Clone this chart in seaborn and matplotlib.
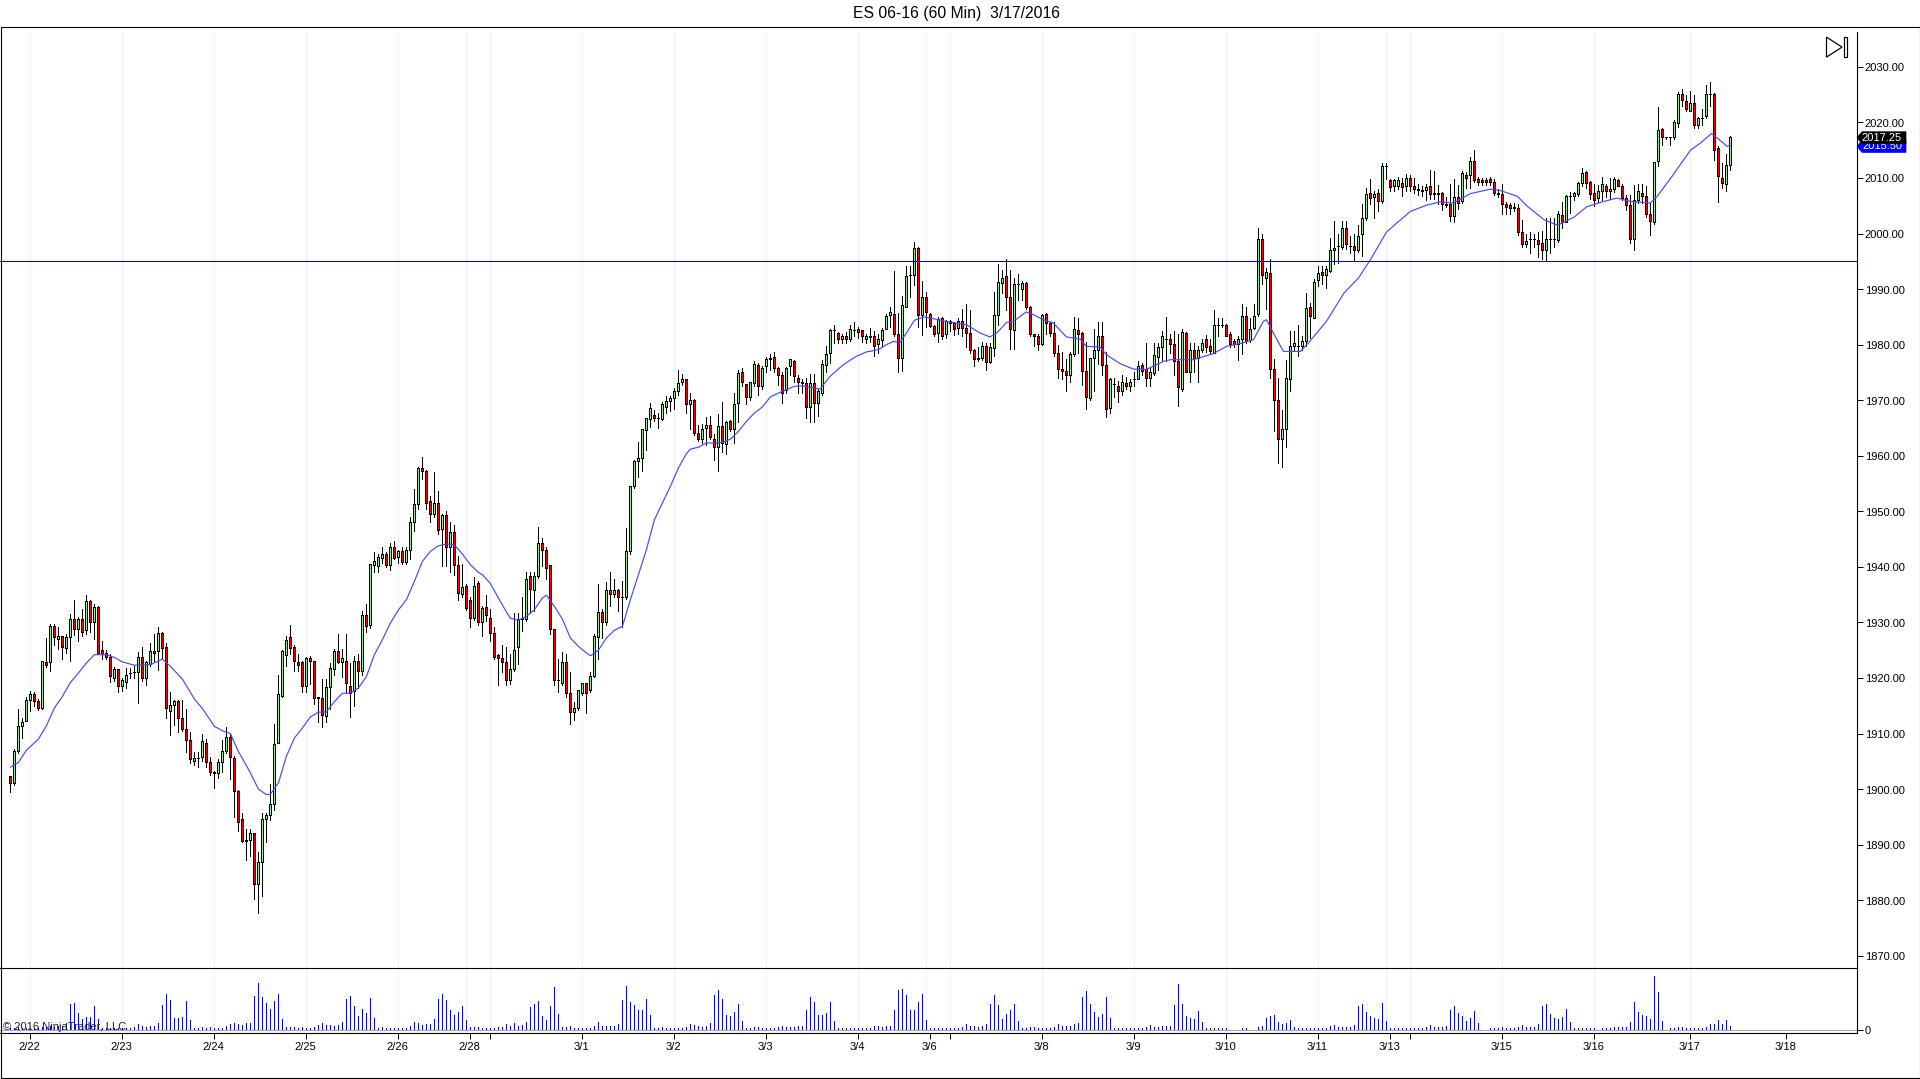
import matplotlib
matplotlib.use("Agg")
import matplotlib.pyplot as plt
from matplotlib.patches import Polygon, Rectangle
from matplotlib.transforms import Affine2D, ScaledTranslation, blended_transform_factory
import numpy as np
import seaborn as sns

# OHLC per 60 min bar
opens = [
    1902.25,1901,1906.75,1911.25,1912.25,1916,1917,1915.75,1914.5,1922.75,
    1922.75,1929.25,1927,1927.5,1925.25,1927.25,1930.5,1928.75,1930.5,1928.5,
    1933.75,1930,1932.75,1925,1924.5,1923.75,1920,1921.5,1918.5,1919.25,
    1920.75,1921,1921,1923.75,1920,1922.5,1924.75,1924.75,1928,1925.5,
    1914,1915,1915.75,1912.75,1910.75,1908.75,1905,1905.5,1905.75,1908.25,
    1904.75,1903,1902.75,1904.75,1906.75,1909.25,1905.5,1899.5,1894.5,1890.75,
    1890.75,1892,1882.75,1886.75,1894.5,1895.25,1897.25,1908.25,1916.75,1924,
    1927.25,1925.5,1922.75,1922.75,1918.5,1923.5,1923,1916.5,1916.25,1913,
    1918.25,1921.5,1924.75,1922.75,1923,1918.5,1917.5,1923,1921.25,1931.25,
    1929.5,1940.25,1940,1941.5,1942.25,1940.25,1943.5,1941.75,1942.75,1940.75,
    1943,1948,1951.25,1957.75,1957.25,1951.75,1949.5,1951.5,1946.75,1949.25,
    1943.5,1946.25,1940.25,1935,1936.5,1934,1930.75,1937,1930,1932.75,
    1930.75,1928,1924,1923.5,1922.75,1919.5,1921.5,1925.5,1930.5,1930.5,
    1938.25,1935.75,1938.25,1944.25,1943,1940.25,1928.75,1919.5,1919,1922.75,
    1917.25,1913.75,1914.5,1917.25,1919,1917.75,1920.25,1927.25,1931.75,1930,
    1935.75,1935,1935.75,1934.5,1934.5,1942.75,1954.5,1959,1959.5,1964.5,
    1966.5,1967.25,1966.75,1966.5,1968.75,1969.75,1970.25,1971.5,1973.25,1973.75,
    1969.25,1970,1964,1963,1965,1965.5,1963,1961.5,1965.25,1962,
    1966.25,1964.75,1969.5,1975,1972.75,1970.5,1973,1976.25,1972.5,1976,
    1977.25,1977.75,1975.75,1974.5,1971.75,1976,1977,1974,1973.25,1973,
    1968.75,1973,1969.5,1971.25,1976.25,1978.5,1982.5,1982,1981,1981.5,
    1981,1982.5,1982.75,1982.5,1981,1981.5,1981.5,1980,1980.75,1982.75,
    1985.25,1985.5,1981.75,1977.5,1986.75,1992.5,1992.5,1997.25,1985.25,1988.5,
    1985.5,1983.25,1982,1984.75,1981.75,1984.25,1983.75,1983,1984.25,1983,
    1982,1979,1977.25,1977.5,1979.75,1976.75,1979.25,1985.25,1991,1992.25,
    1988.5,1982.5,1990.75,1990,1991,1986.75,1981.75,1981.5,1980,1985.5,
    1983.75,1982,1978.5,1975.5,1975.25,1974.5,1978.25,1982.5,1982,1975.25,
    1970.25,1977.5,1979,1981.5,1976.25,1968.5,1972.75,1972.5,1971.5,1973,
    1972.5,1973.75,1973.75,1976.25,1975.5,1974,1974.75,1977.75,1979.5,1981,
    1981,1980,1977,1972,1982,1975,1979,1977.5,1979,1981,
    1979.75,1978.5,1983.5,1983.5,1983.5,1981.75,1980.5,1980,1981,1985,
    1980.75,1983,1985.5,1999,1992,1992.75,1975.5,1970,1963,1964.75,
    1973.75,1979.75,1979.75,1979.75,1980.5,1986.75,1984.75,1991.5,1993,1992.5,
    1993.25,1997,1997.75,1997.5,2001,1997.75,1997.75,1997,1999.75,2002.75,
    2007.25,2006.5,2007.25,2005.75,2012,2009.5,2008.5,2008.5,2009,2008.5,
    2010,2008.5,2008,2007.75,2007.75,2008.5,2007,2007,2007.25,2005.25,
    2005.25,2003,2006.5,2005.75,2010.5,2010.5,2013,2009.75,2009.5,2009.5,
    2009.75,2009.25,2007.25,2007,2005.25,2005,2004.75,2004.5,2000.25,1998,
    1999,1999,1998.75,1998.25,1997,1999,1999,1998.75,2003.25,2002,
    2006.75,2006.75,2007,2009,2011,2009.25,2007.25,2006.25,2007.5,2008.5,
    2007.5,2008,2009.5,2008.5,2006.25,2005,1999,2006,2007.25,2006.75,
    2003.5,2002,2013,2018.75,2017.25,2017.25,2017.25,2019.75,2025,2023.75,
    2022,2023.5,2019.5,2020.75,2021,2025,2025,2015.25,2010,2008.75,2012.25,
]
highs = [
    1902.25,1907.25,1914.5,1912.75,1916.5,1917.75,1917.5,1916.25,1923,1927.25,
    1929.75,1929.75,1929.25,1927.5,1928,1931.5,1934,1931,1932.5,1935,
    1934,1933.25,1933,1926.75,1925,1924.25,1922,1921.5,1920,1921.75,
    1921.75,1922.25,1924.75,1925.5,1923,1926.25,1928,1929.25,1928.25,1926.25,
    1917.5,1916,1916,1916,1914.5,1910.25,1906.75,1906.75,1910,1909,
    1905.75,1903.25,1905.5,1908.75,1911.25,1910,1906,1899.75,1895.75,1892.75,
    1892.75,1892,1888.75,1895.75,1895.75,1901,1911.75,1920.5,1925,1927.5,
    1929.5,1926,1924.25,1923,1923.75,1924,1923,1916.5,1919.75,1919.75,
    1922.75,1925.25,1928,1925.25,1928,1922.75,1924,1924.25,1932,1933.25,
    1940.5,1942.75,1942.25,1943.5,1942.75,1944.25,1944.75,1943,1943.5,1943.5,
    1949,1954,1958,1959.75,1957.5,1952.75,1957,1953.75,1949.5,1950,
    1948,1947.5,1942,1940.5,1937,1934.5,1938.25,1937.5,1933,1935,
    1932.5,1929.25,1924.25,1926,1925.5,1924.25,1931.75,1931.75,1934.5,1939,
    1939,1939,1947.25,1945.25,1943.5,1940.25,1928.75,1923.5,1924.75,1924.25,
    1921,1915.75,1917.75,1919,1919,1921,1928,1937,1932.5,1937.25,
    1939,1937.75,1936,1937.5,1947,1954.5,1959.25,1962.5,1964.75,1966.75,
    1969.5,1968.25,1967.75,1969.75,1970.75,1970.75,1972.25,1975.5,1974.75,1973.75,
    1971.25,1970.25,1965.5,1965.75,1967,1967.25,1964,1967.5,1969.75,1966.25,
    1966.5,1971.25,1975.5,1975.75,1973,1973.25,1977,1976.75,1976.25,1977.75,
    1978.25,1978.75,1976,1975,1976,1977.5,1977.25,1974.5,1973.75,1974,
    1974.75,1974.75,1972,1977.25,1979.75,1982.75,1983.5,1982.25,1982,1982.25,
    1983.5,1984,1983.25,1982.5,1982,1983,1982.5,1982,1983,1985.5,
    1986.75,1993.25,1985.75,1988.75,1994.25,1994.25,1998.5,1997.5,1991.5,1989.5,
    1985.75,1983.5,1985,1985,1984.5,1984.5,1984,1984.75,1986.5,1987.25,
    1986.25,1979.25,1979.5,1980.5,1980.25,1980.25,1989.5,1994.5,1993.5,1995.5,
    1993.5,1992,1992.75,1991.5,1991.25,1987,1982,1982,1985.5,1985.75,
    1984,1984,1980,1978.75,1977.5,1978.75,1985,1984.75,1982.25,1980.5,
    1977.5,1982.75,1984,1984,1978.75,1974,1974,1973.5,1974.5,1974.25,
    1973.75,1975,1977,1976.75,1980.25,1976,1980.25,1980.25,1982.5,1985,
    1982,1982.5,1982,1982.75,1982.25,1980.25,1980.25,1979.75,1981,1981.75,
    1981,1986.25,1984.75,1984.75,1983.75,1982.25,1981,1981.5,1987.25,1986.75,
    1984.75,1987.25,2001,2000,1993.75,1995.5,1977.5,1974,1968.25,1977.25,
    1982.5,1982.5,1983.5,1981.5,1989.25,1987.5,1991.75,1994.25,1994.25,1994.25,
    1999.25,2002.25,2000,2002.25,2002.25,1999.5,2000,2001.5,2005.25,2008.25,
    2009.75,2007.75,2008,2012.75,2012.75,2009.75,2009.75,2010.25,2010,2010.75,
    2010.5,2010,2009,2008.5,2009,2011.5,2011.25,2008.75,2007.5,2006.5,
    2009,2009.75,2008.75,2011.25,2011,2013.75,2015,2010.25,2010,2010,
    2010.25,2009.75,2008,2009,2005.75,2005.5,2005.5,2005.25,2002.5,2000,
    2000.25,2000,2000.25,2000.5,2002.75,2002.75,2002.75,2004,2005.75,2007,
    2007.5,2007.5,2009.25,2011.75,2011.25,2009.5,2009,2008.75,2010.25,2009,
    2010,2010.25,2009.75,2009,2007,2007,2008.75,2009,2009,2008.5,
    2005.5,2012.75,2022.75,2019,2017.25,2017.25,2020.5,2025.5,2026,2025,
    2025.75,2025,2021,2022.5,2026.75,2027.25,2025.25,2015.75,2012.75,2014.25,2017.5,
]
lows = [
    1899.5,1900.75,1906.5,1909.25,1912.25,1914,1915,1914.25,1914.5,1922,
    1921.25,1926,1925.25,1923.5,1924.5,1923,1927.75,1926.75,1927.5,1928,
    1928.25,1927,1924.25,1923.5,1923.5,1919.25,1919.5,1917.5,1917.75,1918.25,
    1920,1920,1915.5,1919.5,1918.75,1922.25,1923,1921.5,1923.5,1912.75,
    1909.75,1911.5,1910.25,1910.5,1906.75,1904.75,1904.25,1904,1905,1904,
    1902.5,1900.25,1902,1903,1906.5,1901.75,1895,1892.5,1890.5,1887.25,
    1888,1880.25,1877.75,1880.75,1890.5,1894.5,1896.25,1908.25,1916.5,1922.25,
    1924.25,1921.25,1921.25,1917.5,1917.5,1919,1915.25,1912,1911.25,1912,
    1914.5,1920.5,1922.75,1920.25,1917.5,1913,1915,1918.25,1920.5,1928.25,
    1929,1939,1939,1940.75,1940,1939.5,1941.5,1940.75,1940.5,1940.5,
    1941.5,1946.5,1950.5,1955.75,1950.5,1948,1949,1946,1940.25,1940.25,
    1939,1938.5,1934,1934.5,1932.25,1929.25,1930.5,1929.5,1927.5,1930.25,
    1926.75,1923.5,1918.75,1921,1918.75,1919,1921.25,1922.5,1928.5,1930.25,
    1931.75,1932,1938,1940.25,1937.75,1928,1918.75,1917.5,1918.75,1916.5,
    1911.75,1912.5,1914.25,1917,1913.75,1917.5,1920.25,1923.5,1927.25,1929.5,
    1933,1934.5,1932,1929.25,1934.25,1942.25,1954.25,1956.25,1957.25,1961,
    1965.25,1966.25,1965,1966.5,1967.75,1968,1968.5,1971,1972.75,1967.75,
    1964.75,1963.75,1962.75,1962.25,1962,1963,1959.25,1957.25,1960.75,1960.25,
    1964.5,1962.25,1966,1972.5,1969.25,1970,1972.5,1971,1972,1975,
    1975.5,1975,1972.75,1969.5,1971.25,1974.5,1973.25,1971.25,1971.25,1966.75,
    1966,1966,1967.25,1971,1975,1976.75,1980.25,1980.25,1980.25,1980.25,
    1980.75,1981.5,1981.25,1980.5,1980.25,1980.5,1978,1978.5,1979.5,1982.75,
    1983.25,1981.5,1975,1975.25,1986.75,1988.5,1990.75,1983.25,1981.75,1983.25,
    1983.25,1981.5,1980.5,1981,1981.25,1982.5,1981.75,1982,1981.5,1979.5,
    1978.5,1976.25,1977,1977.25,1975.5,1976.75,1978,1983.5,1989.25,1986.25,
    1979.25,1979.25,1988,1988,1986.5,1981.5,1979.75,1979,1980,1982,
    1981.5,1978,1974,1973.75,1971.75,1973.25,1978,1978.5,1972.75,1968.5,
    1970,1971.75,1976.5,1974.5,1967,1967.75,1970.5,1969.75,1971,1972,
    1971.75,1972.5,1973.75,1974.5,1972.5,1972.5,1974.5,1975.5,1977,1977,
    1978.5,1974.5,1969,1971.75,1975,1973.25,1975,1973.25,1978.75,1978.75,
    1978.5,1978.5,1981.5,1983.25,1981.5,1979.5,1979.5,1977.25,1978.25,1980.25,
    1980.5,1982.75,1985.25,1991,1986.5,1974,1964.5,1958.75,1958,1961.5,
    1971.75,1979,1978,1979,1979.75,1981.25,1984.75,1990.5,1991,1990.25,
    1993,1994.5,1994.75,1997.25,1997.25,1996.5,1995,1996.75,1996,2002.5,
    2005.25,2002.75,2004,2005.5,2009.75,2007.75,2007.75,2008,2006.75,2007.75,
    2007.75,2007.25,2007,2006.75,2006,2006.25,2006.25,2005.25,2004.25,2004.75,
    2002.25,2002,2004.5,2005.5,2008.25,2008.25,2009.25,2008.75,2008.75,2008.75,
    2008.75,2007,2006.5,2003.5,2003.5,2003.5,2004,1999.75,1997.5,1997.5,
    1996.5,1997.5,1995.75,1995.5,1995,1996.5,1997.5,1998.5,2001,2002,
    2003.75,2006,2006.75,2008.5,2008.25,2006.25,2005,2005.75,2006,2006.5,
    2006.25,2007.5,2008.5,2006,2004.25,1998.25,1997,2005.5,2005.5,2003,
    1999.75,2001.75,2012.25,2016,2017,2016,2017,2019.25,2023,2022,
    2022,2019,2019,2019.5,2020.75,2023,2013.25,2005.75,2008.25,2007.75,2011.5,
]
closes = [
    1901,1906.75,1911.25,1912,1916,1917,1915.75,1914.5,1923,1922.25,
    1929.25,1927.25,1927.5,1925.5,1927.25,1930.5,1928.75,1930.5,1928.25,1933.75,
    1930,1932.75,1924.5,1924.25,1923.75,1920.25,1921.5,1918.5,1919.5,1920.5,
    1920.75,1921,1923.75,1920,1922.75,1924.75,1924.5,1928,1925.25,1914.5,
    1915,1915.75,1912.75,1910.75,1908.75,1905.25,1905.5,1905.5,1908.5,1904.75,
    1903,1902.75,1904.75,1906.75,1909.25,1905.75,1899.5,1894,1890.5,1890.5,
    1892,1882.75,1886.75,1894.5,1895.25,1897.25,1908,1917,1924.75,1926.75,
    1925.25,1923,1922.25,1918.5,1923.5,1923,1916.25,1916.25,1913.25,1918.25,
    1921.75,1924.75,1922.75,1923.5,1919,1917.25,1923,1921.25,1931.25,1929.25,
    1940.5,1941,1941.75,1942.25,1940.25,1943.5,1941.5,1942.75,1940.75,1943,
    1948,1951.25,1957.75,1957.25,1951.5,1949.5,1951.5,1946.5,1949.25,1943.5,
    1946.25,1940.25,1935.25,1936.25,1932.5,1930.75,1936.5,1930,1932.5,1931.25,
    1928,1923.75,1923.5,1922.75,1919.5,1921.5,1925,1930.5,1930.75,1937.75,
    1936,1938.25,1944.25,1943,1939.75,1928.75,1919.5,1919.5,1922.75,1917.25,
    1913.75,1914.5,1917.75,1919,1917.25,1920.25,1927.5,1931.75,1930,1935.75,
    1935,1935.75,1934.5,1934.5,1942.75,1954.5,1959,1959.5,1964.75,1966.75,
    1968.5,1966.75,1966.75,1969.25,1969.75,1970.25,1971.5,1973,1973.75,1969.25,
    1970,1964,1963,1964.75,1965.5,1963.25,1961.5,1965.25,1962.25,1966,
    1964.75,1969.25,1974.75,1973.25,1970.5,1973.25,1976.5,1972.5,1975.75,1977.25,
    1977.5,1975.75,1974.5,1971.25,1975.75,1977.25,1974.25,1973.25,1973,1968.75,
    1973,1969.5,1971.5,1976.5,1978.25,1982.5,1982.5,1981,1981.5,1981,
    1982.75,1982.5,1982.25,1981.5,1981.5,1981.25,1979.75,1981,1982.5,1985,
    1985.75,1981.75,1977.5,1987,1992.25,1992.5,1997.25,1985.25,1988.5,1985.75,
    1983.25,1981.75,1984.5,1981.5,1984.25,1983.75,1982.75,1984.25,1983,1982,
    1979,1977.25,1977.5,1979.75,1976.75,1979.5,1985.25,1991.25,1992,1988.5,
    1982.75,1990.75,1990.75,1991,1986.75,1981.75,1981.5,1980,1985.25,1983.75,
    1982,1978.5,1975.5,1975.25,1974.5,1978.25,1982.75,1981.75,1975.25,1970.5,
    1977.5,1979,1981.5,1976.25,1968.25,1973.75,1972.75,1971.5,1973.25,1972.5,
    1973.25,1973.75,1976,1975.25,1974,1975,1978,1979.5,1981.5,1981,
    1980,1977,1972.25,1982.25,1975,1979,1977.5,1979,1980.25,1979.5,
    1978.75,1983.5,1983.5,1983.5,1981.5,1980,1980,1981,1985,1980.5,
    1982.75,1985,1999,1992.5,1993,1975.5,1970,1963,1964.75,1974,
    1979.75,1980.25,1979.75,1980.5,1986.5,1985,1991.25,1992.75,1992.5,1993.5,
    1997,1997.25,1997.75,2001,1998,1997.75,1997,1999.5,2002.75,2007,
    2006.25,2007,2005.75,2012,2012,2008.25,2009.5,2009.5,2008.25,2010,
    2008.5,2008,2007.75,2007.5,2008.25,2007,2007.25,2007.25,2005.25,2005,
    2003,2006.5,2005.5,2010.75,2010,2013,2009.5,2009.25,2009.25,2009.25,
    2009.25,2007.25,2007,2005.25,2004.75,2004.5,2004.5,2000.25,1998,1998.5,
    1999,1999,1998,1997,1999,1999,1999,2003.5,2002,2006.75,
    2006.75,2007.25,2009,2010.75,2009,2007,2006,2007.5,2008.75,2007.5,
    2008,2009.75,2008.5,2006.25,2005,1999,2006,2007.5,2006.75,2003.5,
    2002.25,2012.75,2018.5,2017.25,2017.25,2017.25,2020,2025,2024,2022.25,
    2023.5,2019.5,2020.75,2020.75,2025,2025,2015,2010.25,2009,2012.25,2017.25,
]

# Volume, relative units (the panel only labels 0)
volumes = [
    6,6,9,6,6,6,6,6,9,9,12,9,12,12,21,
    78,81,51,33,39,39,72,33,6,6,6,6,6,6,6,6,9,18,12,9,12,12,21,
    75,108,90,36,36,39,87,30,6,6,9,6,9,6,6,6,12,18,21,18,15,21,21,
    102,141,99,81,63,87,108,33,9,9,9,6,9,6,6,9,15,21,15,15,12,15,24,
    93,102,72,42,63,51,96,36,6,9,6,6,6,6,6,6,12,24,21,15,18,18,33,
    93,108,90,60,45,54,72,30,9,9,9,
    6,6,6,6,9,9,18,12,21,12,
    15,24,69,78,87,42,30,72,129,48,
    9,9,12,6,6,6,6,6,12,24,
    12,12,12,12,18,90,132,84,75,60,
    60,93,45,6,6,9,6,6,6,6,
    6,9,18,15,12,9,12,21,105,120,
    93,45,42,54,78,27,6,6,9,9,
    6,6,6,6,9,12,9,9,9,12,
    12,60,99,84,45,45,51,84,27,6,
    6,6,6,6,6,6,6,6,12,12,
    9,12,12,60,120,123,105,60,60,84,
    108,30,6,6,6,6,6,6,6,6,
    9,18,12,12,9,12,18,78,105,75,
    33,48,60,78,27,6,6,9,9,6,
    6,6,6,9,18,12,12,12,18,21,
    99,117,78,54,39,48,99,36,6,6,
    6,6,6,6,6,6,9,15,9,9,
    12,12,12,75,138,78,42,36,33,57,
    24,6,6,6,6,6,6,0,0,0,
    6,6,0,0,9,12,36,42,45,24,
    18,21,30,9,6,6,6,6,6,6,
    6,6,12,15,9,9,9,9,15,72,
    78,54,42,36,33,81,27,6,6,6,
    6,6,6,6,6,6,9,15,9,9,
    9,12,60,72,51,42,27,36,57,21,
    0,0,6,6,6,9,6,6,6,9,
    15,9,9,9,18,72,78,48,36,33,39,63,24,6,6,6,6,6,6,0,
    6,6,6,9,9,9,9,24,84,54,45,42,33,162,114,27,0,
    6,6,9,9,6,6,6,6,6,9,18,18,30,18,30,12,
]

# Blue moving average, read at these bar positions
sma_x = [
    0,2,4,7,9,11,13,15,17,19,21,24,26,28,31,35,38,40,43,46,48,51,53,55,57,59,60,62,64,65,
    67,69,71,73,75,77,79,81,83,85,87,89,91,93,95,97,99,101,103,105,107,109,111,113,115,117,
    118,120,122,124,125,127,129,131,133,134,136,138,140,142,144,145,147,149,151,153,155,157,
    159,161,163,165,167,169,170,172,174,176,178,180,182,184,186,188,190,192,194,196,198,
    202.4,204.9,208.25,211.2,214,217,219,220.75,222.4,224,226,228.5,234,239,242.4,244.9,246.6,
    249,250.7,254,255.75,258.2,260.75,264,267.4,269,272.4,274,277.4,280.75,284,288.25,290,
    295.75,300.75,304,307.4,310.75,313.25,314,315.75,318.25,322.5,324.5,329,333.4,337,340,
    344,346.6,350,354,357.4,360.75,365,370,372.5,376.75,379.25,383.4,386.75,391,394,397.4,
    401.6,405,410,411.7,415.4,420,422.5,425.25,426.7,429.2,430,
]
sma_vals = [
    1903.95,1904.8,1907,1909,1911.4,1914.6,1916.7,1919.2,1920.9,1922.7,1924.2,1924.2,1923.7,
    1922.9,1922.3,1922.4,1923.4,1922.1,1919.8,1916.2,1914.5,1911.3,1910.5,1910,1906.75,1904.25,
    1902.9,1900,1899,1899.1,1901.1,1905.9,1909.2,1911,1913,1913.85,1913.9,1915.75,1917.25,
    1917.25,1918.2,1920.25,1924.2,1926.9,1929.9,1932.25,1934.1,1937.4,1941,1942.8,1943.8,
    1944.15,1944,1942.3,1940.4,1939,
    1938.6,1937,1934.4,1931.9,1930.75,1930.4,1931.1,1932.3,1934.4,1934.9,1932.9,1930.6,1927.2,
    1925.7,1924.5,1924,1925,1927.2,1928.6,1929.3,1934.1,1938.6,1943.1,1948.5,1951.5,1954.5,
    1957.8,1960.4,1961.2,1961.55,1962.3,1962.3,1962.4,1963,1964.4,1966.2,1967.7,1968.8,1970.6,
    1971.3,1971.9,1972.5,1972.6,
    1972,1974.3,1976.4,1977.8,1978.7,1979.1,1980,1980.6,1980.4,1982.1,1984.4,1985,1984.2,1983.6,
    1982.1,1981.4,1982.1,1984,1984.2,1985.9,1985.4,1984.5,1983.9,1981.4,1981,1979.7,1979.6,
    1978.2,1976.6,1975.6,1975.55,1977,1977.3,1977.3,1978.4,1979.7,1980.2,1980.9,1984.2,1984.5,
    1982.1,1978.8,1978.8,1980.3,1984.2,1989.3,1992,1995.3,2000.25,2001.9,2004,2005.1,2005.7,
    2005.5,2007.2,2008,2007.75,2006.7,2004.9,2002.5,2001.5,2003,2004.8,2005.6,2006.4,2005.8,
    2005.5,2006.7,2010.3,2015,2016.3,2018,2017.2,2015.7,2015.85,
]

hline_price = 1995
price_ticks = [1870, 1880, 1890, 1900, 1910, 1920, 1930, 1940, 1950, 1960, 1970,
               1980, 1990, 2000, 2010, 2020, 2030]

# date ticks as bar positions, blank label = tick only
date_pos = [5, 28, 51, 74, 97, 115, 120, 143, 166, 189, 212, 230, 235, 258, 281, 304,
            327, 345, 350, 373, 396, 420, 444]
date_labels = ["2/22", "2/23", "2/24", "2/25", "2/26", "2/28", "", "3/1", "3/2", "3/3",
               "3/4", "3/6", "", "3/8", "3/9", "3/10", "3/11", "3/13", "", "3/15",
               "3/16", "3/17", "3/18"]
grid_pos = [5, 28, 51, 74, 97, 114, 120, 143, 166, 189, 212, 229, 235, 258, 281, 304,
            327, 344, 350, 373, 396, 420]

W, H = 1920, 1079
PX = 0.72  # one pixel in points at dpi 100
PX_PRICE = 1 / 5.553  # one pixel in price units
HLINE_BLUE = "#0000C8"
XLIM = (-2.6, 461.575)

sns.set_theme(style="white")
plt.rcParams["font.family"] = ["Liberation Sans", "DejaVu Sans"]
plt.rcParams["font.size"] = 8

fig = plt.figure(figsize=(W / 100, (H + 0.4) / 100), dpi=100)


def panel(x0, y0, x1, y1):
    return fig.add_axes([x0 / W, 1 - y1 / H, (x1 - x0) / W, (y1 - y0) / H])


ax = panel(0, 32, 1856.7, 968.3)
ax_vol = panel(0, 968.3, 1856.7, 1033.3)

bars = np.arange(len(closes))
o = np.array(opens)
c = np.array(closes)
body_low = np.minimum(o, c)
body_size = np.abs(c - o)
colors = np.where(c < o, "#FF0000", "#90EE90")

# price panel: black 3 px body with a 1 px coloured core
ax.vlines(grid_pos, 0, 3000, color="#F0F0F0", lw=PX, zorder=0)
ax.vlines(bars, lows, highs, color="black", lw=PX, antialiased=False, zorder=2)
ax.bar(bars, body_size + PX_PRICE, bottom=body_low - PX_PRICE / 2, width=0.75, color="black",
       linewidth=0, antialiased=False, zorder=3)
has_core = body_size > PX_PRICE
ax.bar(bars[has_core], body_size[has_core] - PX_PRICE, bottom=body_low[has_core] + PX_PRICE / 2,
       width=0.25, color=colors[has_core], linewidth=0, antialiased=False, zorder=3.5)
sns.lineplot(x=sma_x, y=sma_vals, sort=False, errorbar=None, color="#4848FF", lw=0.85,
             ax=ax, zorder=4)
ax.axhline(hline_price, color=HLINE_BLUE, lw=PX, antialiased=False, zorder=5)

ax.set_xlim(*XLIM)
ax.set_ylim(1867.75, 2036.36)
ax.set_yticks(price_ticks, [f"{t:.2f}" for t in price_ticks])
ax.set_xticks([])
ax.yaxis.tick_right()
ax.tick_params(axis="y", length=4.3, width=PX, color="black", pad=1.5, labelsize=8, labelcolor="black", right=True)
for name, spine in ax.spines.items():
    spine.set_visible(name == "right")
    spine.set_linewidth(PX * 1.1)
    spine.set_color("black")

# volume panel
ax_vol.vlines(grid_pos, -10, 185, color="#F0F0F0", lw=PX, zorder=0)
sns.barplot(x=bars, y=volumes, native_scale=True, color="#0000FF", saturation=1, width=0.25,
            linewidth=0, errorbar=None, antialiased=False, ax=ax_vol, zorder=3)
ax_vol.axhline(0, color="#A9A9A9", lw=PX * 1.1, zorder=2)
ax_vol.set_xlim(*XLIM)
ax_vol.set_ylim(-10, 185)
ax_vol.set_ylabel("")
ax_vol.set_xlabel("")
ax_vol.set_yticks([0], ["0"])
ax_vol.yaxis.tick_right()
ax_vol.set_xticks(date_pos, date_labels)
ax_vol.tick_params(axis="y", length=4.3, width=PX, color="black", pad=1.5, labelsize=8, labelcolor="black", right=True)
ax_vol.tick_params(axis="x", length=4.3, width=PX, color="black", pad=2, labelsize=8, labelcolor="black", bottom=True)
shift_left = ScaledTranslation(-1 / 100, 0, fig.dpi_scale_trans)
for label in ax_vol.get_xticklabels():
    label.set_transform(label.get_transform() + shift_left)
for spine in ax_vol.spines.values():
    spine.set_linewidth(PX * 1.1)
    spine.set_color("black")
ax_vol.spines["left"].set_visible(False)

# last price tags on the axis
tag_tf = blended_transform_factory(fig.dpi_scale_trans + Affine2D(), ax.transData)
tag_x0, tag_x1 = 1857 / 100, 1906 / 100
for price, face, txt, text_dy in [(2015.7, "#0000FF", "2015.50", 0.2), (2017.25, "black", "2017.25", -0.05)]:
    dy = 6 * PX_PRICE
    tag = Polygon([(tag_x0, price), (tag_x0 + 0.05, price + dy), (tag_x1, price + dy),
                   (tag_x1, price - dy), (tag_x0 + 0.05, price - dy)],
                  closed=True, transform=tag_tf, facecolor=face, edgecolor=face, lw=0.5,
                  clip_on=False, zorder=8)
    ax.add_patch(tag)
    ax.text(1882 / 100, price + text_dy, txt, transform=tag_tf, color="white", fontsize=8,
            ha="center", va="center", clip_on=False, zorder=8)

# outer frame, title, copyright, end-of-chart icon
fig.add_artist(Rectangle((0.5 / W, 1 - 1078 / H), 1919 / W, (1078 - 27.3) / H, fill=False,
                         edgecolor="black", lw=PX * 1.1, transform=fig.transFigure))
fig.text(956.5 / W, 1 - 13.5 / H, "ES 06-16 (60 Min)  3/17/2016", ha="center", va="center",
         fontsize=11.3, color="black")
fig.text(3 / W, 1 - 1027 / H, "\u00a9 2016 NinjaTrader, LLC", ha="left", va="center",
         fontsize=8, color="#222222", zorder=10)
icon_tri = [(1826.5, 37.5), (1842, 47.5), (1826.5, 57.5)]
fig.add_artist(Polygon([(x / W, 1 - y / H) for x, y in icon_tri], closed=True, fill=False,
                       edgecolor="black", lw=PX * 1.2, transform=fig.transFigure))
fig.add_artist(Rectangle((1843.5 / W, 1 - 57.5 / H), 3 / W, 20 / H, fill=False, edgecolor="black",
                         lw=PX * 1.2, transform=fig.transFigure))

fig.savefig("out.png", dpi=100)
